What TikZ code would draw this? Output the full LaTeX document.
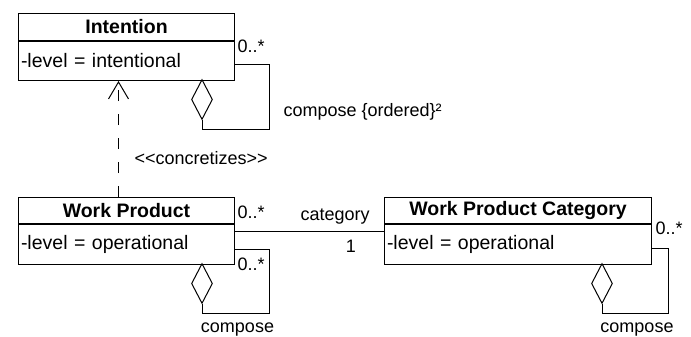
\documentclass[tikz,border=0pt]{standalone}
\usepackage{fontspec}
\setmainfont{Liberation Sans}
\usetikzlibrary{positioning,shapes.geometric,arrows.meta}
\newcommand{\classfont}{\fontsize{19.5}{23}\selectfont}
\newcommand{\labelfont}{\fontsize{18}{21}\selectfont}
\tikzstyle{every node}=[font=\labelfont, inner sep=0pt]
\tikzset{
classname/.style={draw, line width=1pt, font=\classfont\bfseries, minimum height=27pt, inner sep=0pt, anchor=north west},
classattr/.style={draw, line width=1pt, font=\classfont, minimum height=39pt, inner xsep=2.5pt, inner ysep=0pt, align=left},
aggr/.style={diamond, draw, line width=1pt, fill=white, minimum width=21pt, minimum height=40pt, inner sep=0pt, anchor=north},
}

\begin{document}
\begin{tikzpicture}[x=1pt,y=-1pt,line width=1pt]
        \useasboundingbox (0,0) rectangle (691,337);
        % classes
        \node[classname, minimum width=216pt] (intention) at (18,13) {Intention};
        \node[classattr, text width=211pt, below=0pt of intention] (intentionattr) {-level = intentional};
        \node[classname, minimum width=216pt, minimum height=26pt] (workproduct) at (18,197) {Work Product};
        \node[classattr, text width=211pt, minimum height=40pt, below=0pt of workproduct] (workproductattr) {-level = operational};
        \node[classname, minimum width=267pt, minimum height=26pt] (wpcategory) at (384,197) {Work Product Category};
        \node[classattr, text width=262pt, minimum height=40pt, below=0pt of wpcategory] (wpcategoryattr) {-level = operational};
        % self compositions
        \node[aggr] (intentiondia) at (202,79) {};
        \node[aggr] (workproductdia) at (202,263) {};
        \node[aggr] (wpcategorydia) at (602,263) {};
        \coordinate (intentioncorner) at (269,129);
        \coordinate (workproductcorner) at (269,313);
        \coordinate (wpcategorycorner) at (668,313);
        \draw (intentiondia.south) |- (intentioncorner) |- ([yshift=-3.5pt]intentionattr.east);
        \draw (workproductdia.south) |- (workproductcorner) |- ([yshift=-4.5pt]workproductattr.east);
        \draw (wpcategorydia.south) |- (wpcategorycorner) |- ([yshift=-4pt]wpcategoryattr.east);
        % concretizes
        \draw[dash pattern=on 11pt off 13pt, -{Straight Barb[length=17pt,width=20pt]}] ([xshift=-8pt]workproduct.north) -- ([xshift=-8pt]intentionattr.south);
        % category association
        \draw ([yshift=-7pt]workproductattr.north east) -- ([yshift=-7pt]wpcategoryattr.north west);
        % labels
        \node[anchor=base west] (intentionmult) at (237,53) {0..*};
        \node[anchor=base west] (intentioncompose) at (283,117) {compose \{ordered\}²};
        \node[anchor=base west] (concretizes) at (134,164) {<{}<concretizes>{}>};
        \node[anchor=base west] (workproductmult) at (237,218) {0..*};
        \node[anchor=base west] (category) at (300,220) {category};
        \node[anchor=base] (categorymult) at (351,252) {1};
        \node[anchor=base west] (workproductmulttwo) at (237,270) {0..*};
        \node[anchor=base] (workproductcompose) at (237.5,332) {compose};
        \node[anchor=base west] (wpcategorymult) at (655,234) {0..*};
        \node[anchor=base] (wpcategorycompose) at (637,332) {compose};
\end{tikzpicture}
\end{document}
